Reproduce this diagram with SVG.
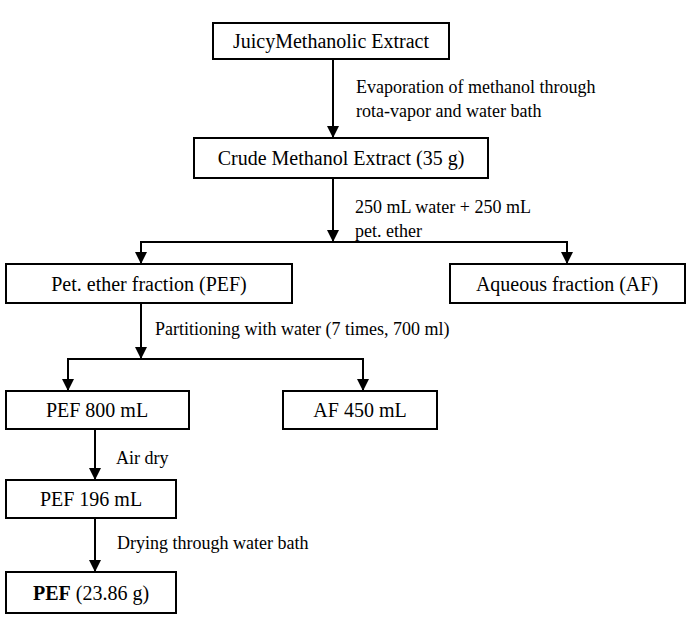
<svg xmlns="http://www.w3.org/2000/svg" width="688" height="619" viewBox="0 0 688 619">
<style>
.box{fill:#fff;stroke:#000;stroke-width:2}
.nt{font-family:"Liberation Serif","Times New Roman",serif;font-size:20px;fill:#000;text-anchor:middle;dominant-baseline:central}
.lb{font-family:"Liberation Serif","Times New Roman",serif;font-size:18px;fill:#000}
.ln{fill:none;stroke:#000;stroke-width:2}
</style>
<defs>
<marker id="ah" markerUnits="userSpaceOnUse" markerWidth="12" markerHeight="12" viewBox="0 0 12 12" refX="12" refY="6" orient="auto">
<path d="M0,0 L12,6 L0,12 Z" fill="#000"/>
</marker>
</defs>
<rect width="688" height="619" fill="#fff"/>
<g id="connectors">
<line class="ln" x1="333" y1="59" x2="333" y2="138" marker-end="url(#ah)"/>
<line class="ln" x1="333" y1="178" x2="333" y2="242" marker-end="url(#ah)"/>
<polyline class="ln" points="141,264 141,242 567,242 567,264"/>
<line class="ln" x1="141" y1="242" x2="141" y2="264" marker-end="url(#ah)"/>
<line class="ln" x1="567" y1="242" x2="567" y2="264" marker-end="url(#ah)"/>
<line class="ln" x1="141" y1="303" x2="141" y2="359" marker-end="url(#ah)"/>
<polyline class="ln" points="68,391 68,359 363,359 363,391"/>
<line class="ln" x1="68" y1="359" x2="68" y2="391" marker-end="url(#ah)"/>
<line class="ln" x1="363" y1="359" x2="363" y2="391" marker-end="url(#ah)"/>
<line class="ln" x1="95" y1="429" x2="95" y2="480" marker-end="url(#ah)"/>
<line class="ln" x1="95" y1="518" x2="95" y2="572" marker-end="url(#ah)"/>
<text class="lb" x="356" y="93">Evaporation of methanol through</text>
<text class="lb" x="356" y="117">rota-vapor and water bath</text>
<text class="lb" x="355" y="213">250 mL water + 250 mL</text>
<text class="lb" x="355" y="237">pet. ether</text>
<text class="lb" x="155" y="335">Partitioning with water (7 times, 700 ml)</text>
<text class="lb" x="116" y="464">Air dry</text>
<text class="lb" x="117" y="549">Drying through water bath</text>
</g>
<g id="juicy">
<rect class="box" x="213" y="23" width="236" height="36"/>
<text class="nt" x="331" y="41">JuicyMethanolic Extract</text>
</g>
<g id="crude">
<rect class="box" x="194" y="138" width="294" height="40"/>
<text class="nt" x="341" y="158">Crude Methanol Extract (35 g)</text>
</g>
<g id="pef">
<rect class="box" x="6" y="264" width="286" height="39"/>
<text class="nt" x="149" y="284">Pet. ether fraction (PEF)</text>
</g>
<g id="af">
<rect class="box" x="450" y="264" width="235" height="39"/>
<text class="nt" x="567" y="284">Aqueous fraction (AF)</text>
</g>
<g id="pef800">
<rect class="box" x="6" y="391" width="183" height="38"/>
<text class="nt" x="97" y="410">PEF 800 mL</text>
</g>
<g id="af450">
<rect class="box" x="283" y="391" width="154" height="38"/>
<text class="nt" x="360" y="410">AF 450 mL</text>
</g>
<g id="pef196">
<rect class="box" x="6" y="480" width="170" height="38"/>
<text class="nt" x="91" y="499">PEF 196 mL</text>
</g>
<g id="pefdry">
<rect class="box" x="6" y="572" width="170" height="41"/>
<text class="nt" x="91" y="593"><tspan font-weight="bold">PEF</tspan> (23.86 g)</text>
</g>
</svg>
